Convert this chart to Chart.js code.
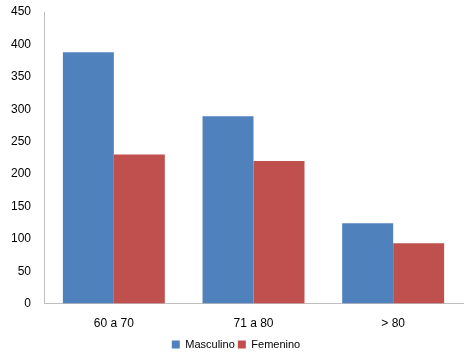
<!DOCTYPE html>
<html>
<head>
<meta charset="utf-8">
<script src="https://cdn.jsdelivr.net/npm/chart.js@4"></script>
<style>html,body{margin:0;padding:0;background:#fff;}</style>
</head>
<body>
<canvas id="c" width="474" height="353"></canvas>
<script>
const categories = ["60 a 70", "71 a 80", "> 80"];
const masculino = [388, 289, 124];
const femenino = [230, 220, 93];
const seriesNames = ["Masculino", "Femenino"];

new Chart(document.getElementById('c'), {
  type: 'bar',
  data: {
    labels: categories,
    datasets: [
      { label: seriesNames[0], data: masculino, backgroundColor: '#4F81BD' },
      { label: seriesNames[1], data: femenino, backgroundColor: '#C0504D' }
    ]
  },
  options: {
    responsive: false,
    devicePixelRatio: 1,
    animation: false,
    layout: { padding: { top: 12, right: 11, left: 9, bottom: -7 } },
    datasets: { bar: { categoryPercentage: 0.73, barPercentage: 1.0 } },
    scales: {
      x: {
        grid: { display: false },
        border: { display: true, color: '#BFBFBF' },
        ticks: { color: '#000', font: { family: 'Liberation Sans, Arial', size: 12 }, padding: 5 }
      },
      y: {
        min: 0, max: 450,
        grid: { display: false, tickLength: 11 },
        border: { display: true, color: '#BFBFBF' },
        ticks: { stepSize: 50, color: '#000', font: { family: 'Liberation Sans, Arial', size: 12 }, padding: 2 }
      }
    },
    plugins: {
      legend: {
        position: 'bottom',
        labels: { boxWidth: 8, boxHeight: 8, color: '#000', font: { family: 'Liberation Sans, Arial', size: 11 }, padding: 3 }
      },
      tooltip: { enabled: false }
    }
  }
});
</script>
</body>
</html>
